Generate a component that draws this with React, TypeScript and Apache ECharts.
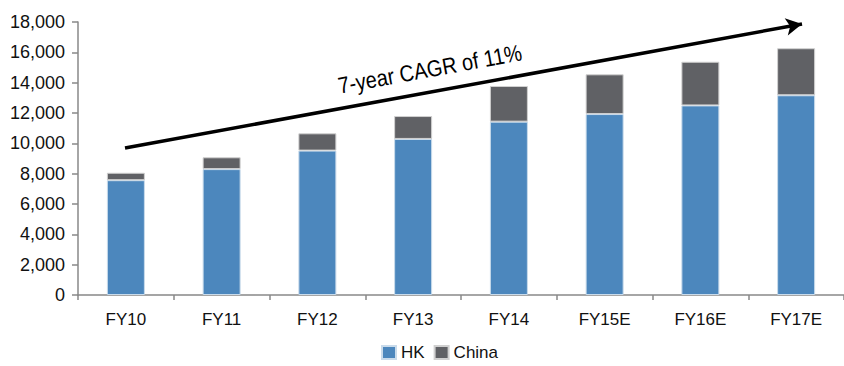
import React, { useEffect, useRef } from "react";
import * as echarts from "echarts";

const categories = ["FY10", "FY11", "FY12", "FY13", "FY14", "FY15E", "FY16E", "FY17E"];
const hkValues = [7570, 8300, 9520, 10290, 11430, 11930, 12500, 13170];
const chinaValues = [490, 780, 1140, 1510, 2350, 2620, 2880, 3100];
const yTicks = { min: 0, max: 18000, interval: 2000 };
const annotationText = "7-year CAGR of 11%";

const FONT = "'Liberation Sans', Arial, sans-serif";

export default function App() {
  const ref = useRef<HTMLDivElement>(null);
  useEffect(() => {
    if (!ref.current) return;
    const chart = echarts.init(ref.current, null, { renderer: "svg" });
    chart.setOption({
      animation: false,
      textStyle: { fontFamily: FONT },
      grid: { left: 78, right: -15, top: 22, bottom: 71, containLabel: false },
      legend: {
        bottom: 0,
        left: 376,
        itemWidth: 14,
        itemHeight: 13,
        itemGap: 9,
        icon: "rect",
        textStyle: { fontFamily: FONT, fontSize: 17, color: "#111" },
        data: ["HK", "China"],
      },
      xAxis: {
        type: "category",
        data: categories,
        axisLine: { lineStyle: { color: "#888", width: 1.5 } },
        axisTick: { show: true, length: 5, lineStyle: { color: "#888", width: 1.5 } },
        axisLabel: { fontFamily: FONT, fontSize: 17, color: "#111", margin: 16 },
      },
      yAxis: {
        type: "value",
        min: yTicks.min,
        max: yTicks.max,
        interval: yTicks.interval,
        splitLine: { show: false },
        axisLine: { show: true, lineStyle: { color: "#888", width: 1.5 } },
        axisTick: { show: true, inside: false, length: 6, lineStyle: { color: "#888", width: 1.5 } },
        axisLabel: {
          fontFamily: FONT,
          fontSize: 18,
          color: "#111",
          margin: 13,
          formatter: (v: number) => v.toLocaleString("en-US"),
        },
      },
      series: [
        {
          name: "HK",
          type: "bar",
          stack: "total",
          data: hkValues,
          barWidth: 38,
          itemStyle: { color: "#4c87bd", borderColor: "#c9dbeb", borderWidth: 1 },
          markLine: {
            silent: true,
            symbol: ["none", "arrow"],
            symbolSize: [13, 16],
            label: { show: false },
            lineStyle: { color: "#000", width: 3.5, type: "solid" },
            data: [[{ x: 125, y: 148 }, { x: 802, y: 24 }]],
          },
        },
        {
          name: "China",
          type: "bar",
          stack: "total",
          data: chinaValues,
          barWidth: 38,
          itemStyle: { color: "#606165", borderColor: "#d0d0d0", borderWidth: 1 },
        },
      ],
      graphic: [
        {
          type: "text",
          x: 430,
          y: 69,
          scaleY: 1.15,
          rotation: (10.4 * Math.PI) / 180,
          style: {
            text: annotationText,
            fontFamily: FONT,
            fontSize: 20,
            fill: "#000",
            align: "center",
            verticalAlign: "middle",
          },
        },
      ],
    });
    return () => chart.dispose();
  }, []);
  return (
    <div
      ref={ref}
      style={{ position: "fixed", left: 0, top: 0, width: 844, height: 366, background: "#fff" }}
    />
  );
}
